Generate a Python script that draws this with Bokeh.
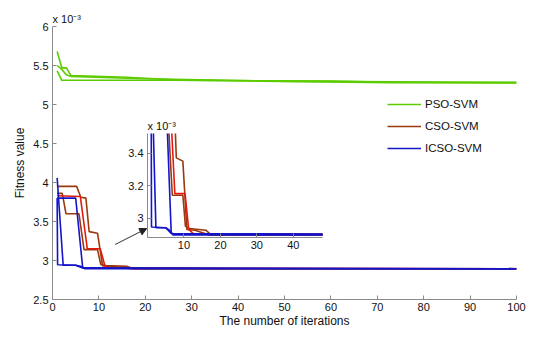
from bokeh.plotting import figure
from bokeh.models import (Range1d, Legend, LegendItem, Title, Arrow, NormalHead,
                          FixedTicker, CustomJSTickFormatter)
from bokeh.layouts import column
from bokeh.embed import file_html
from bokeh.resources import INLINE

# ---- data: fitness value (x 1e-3) vs iteration, polyline vertices ----
pso1_x = [1, 2, 3, 4, 16, 28, 45, 73, 100]
pso1_y = [5.68, 5.47, 5.47, 5.37, 5.35, 5.31, 5.30, 5.28, 5.28]
pso2_x = [1, 2, 3, 4, 20, 48, 73, 100]
pso2_y = [5.50, 5.45, 5.38, 5.36, 5.33, 5.30, 5.29, 5.28]
pso3_x = [1, 2, 27, 60, 73, 100]
pso3_y = [5.43, 5.31, 5.31, 5.30, 5.285, 5.28]

cso1_x = [1, 5.2, 6.1, 7.2, 7.9, 9.7, 10.8, 13, 17, 100]
cso1_y = [3.95, 3.95, 3.81, 3.80, 3.37, 3.35, 2.93, 2.925, 2.895, 2.895]
cso2_x = [1, 2.1, 2.9, 5.7, 6.8, 9.7, 10.4, 11.5, 16, 17.5, 100]
cso2_y = [3.86, 3.86, 3.60, 3.60, 3.14, 3.14, 2.95, 2.935, 2.925, 2.895, 2.895]
cso3_x = [1, 6, 7.5, 10.3, 11.3, 12.5, 100]
cso3_y = [3.83, 3.82, 3.15, 3.15, 2.93, 2.905, 2.895]

icso1_x = [1, 1.1, 5, 6, 7, 100]
icso1_y = [3.80, 2.945, 2.94, 2.925, 2.90, 2.895]
icso2_x = [1, 5, 6.5, 7, 100]
icso2_y = [3.80, 3.80, 2.91, 2.895, 2.895]
icso3_x = [1, 2.3, 5, 6.5, 100]
icso3_y = [4.06, 2.94, 2.94, 2.905, 2.895]

x_ticks = [0, 10, 20, 30, 40, 50, 60, 70, 80, 90, 100]
y_ticks = [2.5, 3, 3.5, 4, 4.5, 5, 5.5, 6]
inset_x_ticks = [10, 20, 30, 40]
inset_y_ticks = [3.0, 3.2, 3.4]

GREEN = "#5ccc00"
BROWN = "#9a3a0c"
RED = "#e21a10"
BLUE = "#1414c8"
AXIS = "#8a8a8a"
FONT = "Liberation Sans"

series = [
    ("PSO-SVM", GREEN, pso1_x, pso1_y), ("PSO-SVM", GREEN, pso2_x, pso2_y), ("PSO-SVM", GREEN, pso3_x, pso3_y),
    ("CSO-SVM", BROWN, cso1_x, cso1_y), ("CSO-SVM", BROWN, cso2_x, cso2_y), ("CSO-SVM", RED, cso3_x, cso3_y),
    ("ICSO-SVM", BLUE, icso1_x, icso1_y), ("ICSO-SVM", BLUE, icso2_x, icso2_y), ("ICSO-SVM", BLUE, icso3_x, icso3_y),
]

fmt = CustomJSTickFormatter(code="return String(Math.round(tick*10)/10)")


def style_axes(fig, xt, yt, label_size):
    for ax in (fig.xaxis[0], fig.yaxis[0]):
        ax.axis_line_color = AXIS
        ax.major_tick_line_color = AXIS
        ax.minor_tick_line_color = None
        ax.major_tick_in = 4
        ax.major_tick_out = 0
        ax.major_label_text_font = FONT
        ax.major_label_text_font_size = label_size
        ax.major_label_text_color = "#111111"
        ax.axis_label_text_font = FONT
        ax.axis_label_text_font_style = "normal"
        ax.axis_label_text_font_size = "12px"
        ax.axis_label_text_color = "#111111"
        ax.formatter = fmt
    fig.xaxis[0].ticker = FixedTicker(ticks=xt)
    fig.yaxis[0].ticker = FixedTicker(ticks=yt)
    fig.xgrid.visible = False
    fig.ygrid.visible = False
    fig.outline_line_color = None


def exp_title(fig):
    fig.add_layout(Title(text="x 10\u207b\u00b3", align="left", text_font=FONT,
                         text_font_size="11px", text_font_style="normal",
                         text_color="#111111", standoff=3), "above")


# ---- main figure ----
p = figure(width=550, height=333, output_backend="svg", toolbar_location=None,
           x_range=Range1d(0, 100), y_range=Range1d(2.5, 6),
           min_border_left=50, min_border_right=34, min_border_top=26, min_border_bottom=34)
style_axes(p, x_ticks, y_ticks, "11px")
p.xaxis.axis_label = "The number of iterations"
p.yaxis.axis_label = "Fitness value"
p.xaxis.major_label_standoff = 3
p.yaxis.major_label_standoff = 4
p.xaxis.axis_label_standoff = 0
p.yaxis.axis_label_standoff = 3
exp_title(p)

first = {}
for name, col, xs, ys in series:
    r = p.line(xs, ys, line_color=col, line_width=1.6)
    first.setdefault(name, r)

legend = Legend(items=[LegendItem(label=k, renderers=[v]) for k, v in first.items()],
                location=(335, 141), border_line_color=None, background_fill_alpha=0,
                padding=0, margin=0, spacing=2, glyph_width=34, glyph_height=20,
                label_height=20, label_standoff=4, label_text_font=FONT,
                label_text_font_size="11.5px", label_text_color="#111111")
p.add_layout(legend)

p.add_layout(Arrow(end=NormalHead(size=7, fill_color="#222222", line_color="#222222"),
                   x_start=13.5, y_start=3.205, x_end=20.3, y_end=3.41,
                   line_color="#333333", line_width=1))

# ---- inset figure ----
q = figure(frame_width=175, frame_height=104, output_backend="svg", toolbar_location=None,
           x_range=Range1d(0, 48), y_range=Range1d(2.88, 3.52),
           min_border_left=52, min_border_right=6, min_border_top=28, min_border_bottom=16)
style_axes(q, inset_x_ticks, inset_y_ticks, "11px")
q.xaxis.major_label_standoff = 3
q.yaxis.major_label_standoff = 4
q.background_fill_alpha = 0
q.border_fill_alpha = 0
for name, col, xs, ys in series[3:]:
    q.line(xs, ys, line_color=col, line_width=1.6)
exp_title(q)
q.styles = {"position": "absolute", "left": "95px", "top": "105px",
            "width": "233px", "height": "148px"}

layout = column(p, q)
open("out.html", "w").write(file_html(layout, INLINE))
